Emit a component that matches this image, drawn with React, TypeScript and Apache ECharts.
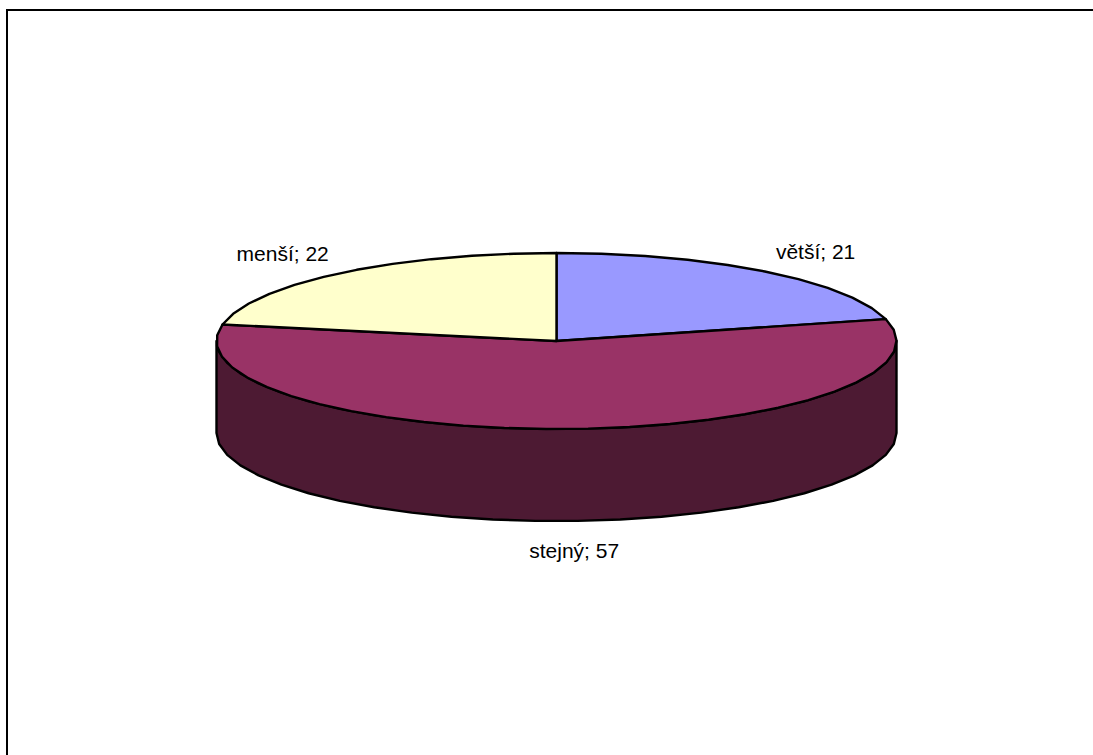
import React, { useEffect, useRef } from "react";
import * as echarts from "echarts";

const categories = ["větší", "stejný", "menší"];
const values = [21, 57, 22];
const topColors = ["#9999FF", "#993366", "#FFFFCC"];
const wallColors = ["#4D4D80", "#4D1A33", "#808066"];

const CX = 556.5;
const CY = 341;
const RX = 340;
const RY = 88;
const DEPTH = 92;
const STEP = 7.2;
const FONT = '"Liberation Sans", Arial, sans-serif';

const total = values.reduce((a, b) => a + b, 0);
const px = (deg: number) => CX + RX * Math.sin((deg * Math.PI) / 180);
const py = (deg: number, drop = 0) => CY - RY * Math.cos((deg * Math.PI) / 180) + drop;

function arc(from: number, to: number, drop = 0): number[][] {
  const out: number[][] = [];
  const n = Math.max(1, Math.round((to - from) / STEP));
  for (let i = 0; i <= n; i++) {
    const a = from + ((to - from) * i) / n;
    out.push([px(a), py(a, drop)]);
  }
  return out;
}

function sliceRange(index: number): [number, number] {
  let before = 0;
  for (let i = 0; i < index; i++) before += values[i];
  return [(before / total) * 360, ((before + values[index]) / total) * 360];
}

const lineStyle = { stroke: "#000", lineWidth: 2.4, lineJoin: "round" as const };

function renderWall(_: any, api: any) {
  const i = api.value(0) as number;
  const [a, b] = sliceRange(i);
  const from = Math.max(a, 90);
  const to = Math.min(b, 270);
  if (to <= from) return { type: "group", children: [] };
  const points = [...arc(from, to), ...arc(from, to, DEPTH).reverse()];
  return {
    type: "polygon",
    shape: { points },
    style: { fill: wallColors[i], ...lineStyle },
  };
}

function renderTop(_: any, api: any) {
  const i = api.value(0) as number;
  const [a, b] = sliceRange(i);
  const mid = (a + b) / 2;
  const front = Math.cos((mid * Math.PI) / 180) < -0.5;
  const right = Math.sin((mid * Math.PI) / 180) > 0;
  const label = `${categories[i]}; ${values[i]}`;
  const textStyle = front
    ? { x: px(mid) + 7, y: py(mid, DEPTH) + 30, align: "center" }
    : { x: px(mid) + (right ? 11 : -11), y: py(mid) - 20, align: right ? "left" : "right" };
  return {
    type: "group",
    children: [
      {
        type: "polygon",
        shape: { points: [[CX, CY], ...arc(a, b)] },
        style: { fill: topColors[i], ...lineStyle },
      },
      {
        type: "text",
        style: {
          text: label,
          x: textStyle.x,
          y: textStyle.y,
          textAlign: textStyle.align,
          textVerticalAlign: "middle",
          fill: "#000",
          font: `21px ${FONT}`,
        },
      },
    ],
  };
}

export default function App() {
  const ref = useRef<HTMLDivElement>(null);
  useEffect(() => {
    const chart = echarts.init(ref.current!, undefined, { renderer: "svg" });
    const rows = values.map((v, i) => [i, v]);
    chart.setOption({
      animation: false,
      backgroundColor: "#FFFFFF",
      graphic: [
        { type: "line", shape: { x1: 7, y1: 10, x2: 1093, y2: 10 }, style: { stroke: "#000", lineWidth: 2 } },
        { type: "line", shape: { x1: 7, y1: 9, x2: 7, y2: 755 }, style: { stroke: "#000", lineWidth: 2 } },
      ],
      series: [
        { type: "custom", coordinateSystem: "none", data: rows, renderItem: renderWall, z: 1, silent: true },
        { type: "custom", coordinateSystem: "none", data: rows, renderItem: renderTop, z: 2, silent: true },
      ],
    });
    return () => chart.dispose();
  }, []);
  return (
    <div
      ref={ref}
      style={{ position: "fixed", left: 0, top: 0, width: 1093, height: 755, background: "#fff" }}
    />
  );
}
